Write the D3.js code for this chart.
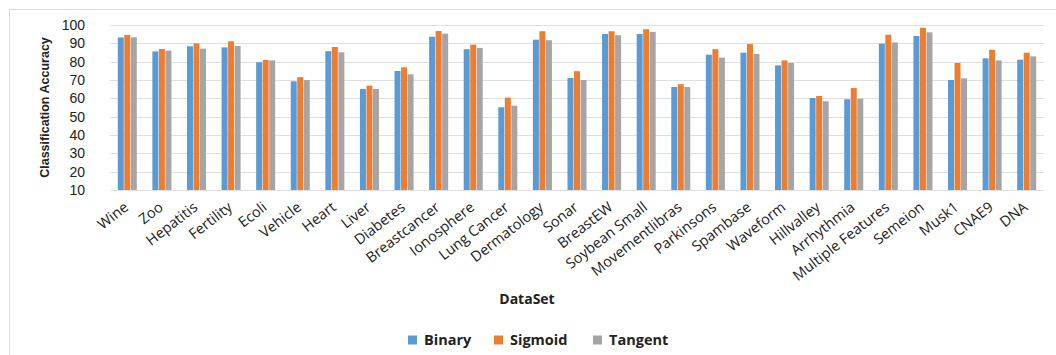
<!DOCTYPE html>
<html>
<head>
<meta charset="utf-8">
<script src="https://cdn.jsdelivr.net/npm/d3@7"></script>
<style>
  body { margin: 0; background: #fff; }
  svg { display: block; font-family: "Liberation Sans", Arial, sans-serif; }
</style>
</head>
<body>
<div id="chart"></div>
<script>
const datasets = ["Wine", "Zoo", "Hepatitis", "Fertility", "Ecoli", "Vehicle", "Heart", "Liver",
  "Diabetes", "Breastcancer", "Ionosphere", "Lung Cancer", "Dermatology", "Sonar", "BreastEW",
  "Soybean Small", "Movementlibras", "Parkinsons", "Spambase", "Waveform", "Hillvalley",
  "Arrhythmia", "Multiple Features", "Semeion", "Musk1", "CNAE9", "DNA"];
const binary  = [93.2, 85.6, 88.4, 87.8, 79.7, 69.3, 85.7, 65.1, 74.9, 93.6, 86.8, 55.1, 92.0, 71.1,
  95.1, 95.1, 66.2, 83.8, 84.9, 78.0, 60.2, 59.5, 89.8, 94.0, 70.0, 81.8, 81.1];
const sigmoid = [94.6, 86.9, 90.0, 91.1, 80.9, 71.6, 88.0, 66.9, 76.9, 96.7, 89.3, 60.4, 96.6, 74.8,
  96.6, 97.7, 67.7, 86.8, 89.6, 80.7, 61.3, 65.6, 94.7, 98.5, 79.3, 86.5, 84.9];
const tangent = [93.3, 86.0, 87.1, 88.6, 80.7, 70.0, 85.1, 65.1, 73.1, 95.3, 87.5, 56.0, 91.7, 70.0,
  94.4, 96.2, 66.2, 82.2, 84.2, 79.3, 58.4, 59.8, 90.5, 96.0, 70.9, 80.7, 82.9];
const seriesNames = ["Binary", "Sigmoid", "Tangent"];
const yTicks = [10, 20, 30, 40, 50, 60, 70, 80, 90, 100];

const colors = ["#5b9bd5", "#ed7d31", "#a5a5a5"];
const width = 1056, height = 355;
const plot = { left: 110, right: 1044, top: 25, bottom: 190 };

const svg = d3.select("#chart").append("svg")
  .attr("width", width)
  .attr("height", height);

// outer frame (right and bottom edges run off the picture)
svg.append("rect")
  .attr("x", 9.5).attr("y", 9.5)
  .attr("width", 1060).attr("height", 360)
  .attr("fill", "none")
  .attr("stroke", "#d9d9d9");

const data = datasets.map((name, i) => ({
  name,
  values: [binary[i], sigmoid[i], tangent[i]]
}));

const x0 = d3.scaleBand()
  .domain(datasets)
  .range([plot.left, plot.right])
  .paddingInner(0.42)
  .paddingOuter(0.21);

const x1 = d3.scaleBand()
  .domain(seriesNames)
  .range([0, x0.bandwidth()])
  .padding(0.08);

const y = d3.scaleLinear()
  .domain([10, 100])
  .range([plot.bottom, plot.top]);

// gridlines
svg.append("g")
  .selectAll("line")
  .data(yTicks)
  .join("line")
  .attr("x1", plot.left)
  .attr("x2", plot.right)
  .attr("y1", d => Math.round(y(d)) + 0.5)
  .attr("y2", d => Math.round(y(d)) + 0.5)
  .attr("stroke", "#e0e0e0");

// y tick labels
svg.append("g")
  .selectAll("text")
  .data(yTicks)
  .join("text")
  .attr("x", 85)
  .attr("y", d => y(d))
  .attr("dy", "0.35em")
  .attr("text-anchor", "end")
  .attr("font-size", "14px")
  .attr("fill", "#222")
  .text(d => d);

// y axis title
svg.append("text")
  .attr("transform", `translate(49,${(plot.top + plot.bottom) / 2}) rotate(-90)`)
  .attr("text-anchor", "middle")
  .attr("font-size", "12.5px")
  .attr("font-weight", "bold")
  .attr("fill", "#222")
  .text("Classification Accuracy");

// bars
const groups = svg.append("g")
  .selectAll("g")
  .data(data)
  .join("g")
  .attr("transform", d => `translate(${x0(d.name)},0)`);

groups.selectAll("rect")
  .data(d => d.values.map((v, i) => ({ key: seriesNames[i], value: v, i })))
  .join("rect")
  .attr("x", d => x1(d.key))
  .attr("y", d => y(d.value))
  .attr("width", x1.bandwidth())
  .attr("height", d => y(10) - y(d.value))
  .attr("fill", d => colors[d.i]);

// x tick labels
svg.append("g")
  .attr("font-family", "'Open Sans', sans-serif")
  .selectAll("text")
  .data(datasets)
  .join("text")
  .attr("transform", d => `translate(${x0(d) + x0.bandwidth() / 2 - 1},205) rotate(-38)`)
  .attr("text-anchor", "end")
  .attr("dy", "0.35em")
  .attr("font-size", "14.5px")
  .attr("fill", "#222")
  .text(d => d);

// x axis title
svg.append("text")
  .attr("x", 527)
  .attr("y", 304)
  .attr("text-anchor", "middle")
  .attr("font-family", "'Open Sans', sans-serif")
  .attr("font-size", "14px")
  .attr("font-weight", "bold")
  .attr("fill", "#222")
  .text("DataSet");

// legend
const legendX = [408, 494, 593];
const legend = svg.append("g")
  .attr("font-family", "'Open Sans', sans-serif")
  .selectAll("g")
  .data(seriesNames)
  .join("g")
  .attr("transform", (d, i) => `translate(${legendX[i]},340)`);

legend.append("rect")
  .attr("x", 0).attr("y", -4.5)
  .attr("width", 9).attr("height", 9)
  .attr("fill", (d, i) => colors[i]);

legend.append("text")
  .attr("x", 16)
  .attr("dy", "0.35em")
  .attr("font-size", "14.5px")
  .attr("font-weight", "bold")
  .attr("fill", "#222")
  .text(d => d);
</script>
</body>
</html>
